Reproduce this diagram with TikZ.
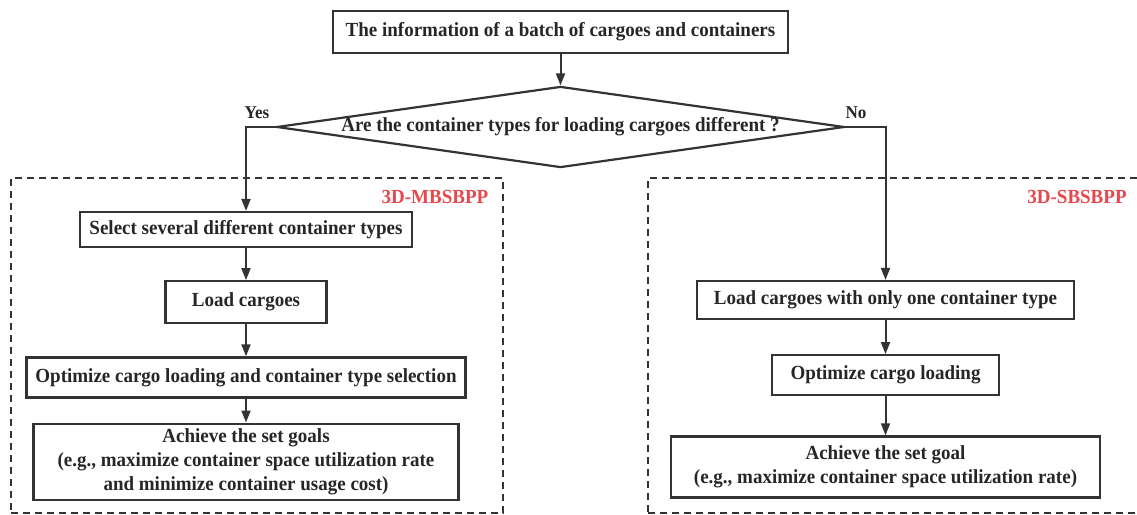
\documentclass[tikz,border=0pt]{standalone}
\usepackage{fontspec}
\setmainfont{Liberation Serif}[FakeStretch=0.95]
\usetikzlibrary{shapes.geometric,positioning,arrows.meta}
\definecolor{linegray}{HTML}{333333}
\definecolor{probred}{HTML}{E8474B}

\begin{document}
\begin{tikzpicture}[x=1pt,y=-1pt,>={Triangle[length=12pt,width=9pt]},
	font=\fontsize{20}{24}\selectfont\bfseries,text=black!85,
	block/.style={draw=linegray,line width=2.2pt,inner sep=0pt,align=center},
	group/.style={draw=linegray,line width=2pt,dash pattern=on 7pt off 5pt},
	flow/.style={->,draw=linegray,line width=2pt},
	tag/.style={font=\fontsize{18}{20}\selectfont\bfseries},
	probname/.style={text=probred}]
		\useasboundingbox (0,0) rectangle (1137,514);

		% the two problem variants
		\node[group,minimum width=492,minimum height=335] (mbgrp) at (257,345.5) {};
		\node[group,minimum width=497,minimum height=335] (sbgrp) at (896.5,345.5) {};
		\node[probname] (mbname) at (435,197) {3D-MBSBPP};
		\node[probname] (sbname) at (1077,197) {3D-SBSBPP};

		\node[block,minimum width=455,minimum height=42] (info) at (560.5,32) {The information of a batch of cargoes and containers};
		\node[block,diamond,aspect=7,minimum width=563,minimum height=81] (dec) at (560.5,127) {Are the container types for loading cargoes different ?};
		\node[tag] (yes) at (257,113) {Yes};
		\node[tag] (no) at (856,113) {No};

		% left branch
		\node[block,minimum width=332,minimum height=35] (sel) at (246,229.5) {Select several different container types};
		\node[block,minimum width=161,minimum height=42] (load) [below=32pt of sel] {Load cargoes};
		\node[block,minimum width=439,minimum height=40] (opt) [below=32pt of load] {Optimize cargo loading and container type selection};
		\node[block,minimum width=425,minimum height=76] (goals) [below=24pt of opt] {Achieve the set goals\\(e.g., maximize container space utilization rate\\and minimize container usage cost)};

		% right branch
		\node[block,minimum width=377,minimum height=38] (loadone) at (885.5,300) {Load cargoes with only one container type};
		\node[block,minimum width=227,minimum height=40] (optone) [below=34pt of loadone] {Optimize cargo loading};
		\node[block,minimum width=429,minimum height=61] (goal) [below=39pt of optone] {Achieve the set goal\\(e.g., maximize container space utilization rate)};

		\draw[flow] (info) -- (dec);
		\draw[flow] (dec.west) -| (sel.north);
		\draw[flow] (dec.east) -| (loadone.north);
		\draw[flow] (sel) -- (load);
		\draw[flow] (load) -- (opt);
		\draw[flow] (opt) -- (goals);
		\draw[flow] (loadone) -- (optone);
		\draw[flow] (optone) -- (goal);
\end{tikzpicture}
\end{document}
